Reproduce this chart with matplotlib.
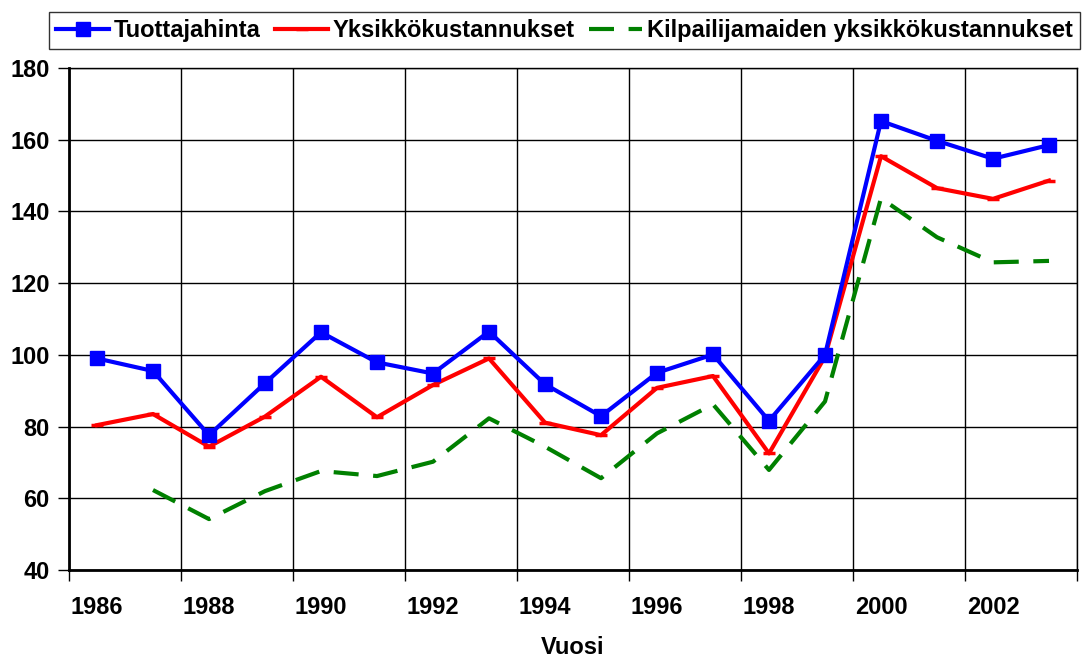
import matplotlib
matplotlib.use("Agg")
import matplotlib.pyplot as plt
import numpy as np

years = list(range(1986, 2004))
tuottajahinta = [99.0, 95.5, 77.6, 92.1, 106.3, 97.9, 94.8, 106.5, 91.8, 82.9,
                 95.0, 100.1, 81.6, 100.0, 165.2, 159.7, 154.7, 158.5]
yksikkokust = [80.4, 83.5, 74.4, 82.8, 93.9, 82.6, 91.6, 99.0, 81.1, 77.6,
               90.8, 94.1, 72.5, 99.5, 155.4, 146.5, 143.5, 148.6]
kilpailijat = [np.nan, 62.3, 54.2, 62.0, 67.6, 66.2, 70.2, 82.3, 74.4, 65.6,
               78.1, 86.2, 67.9, 87.0, 143.7, 132.8, 125.8, 126.2]
labels = ["Tuottajahinta", "Yksikkökustannukset", "Kilpailijamaiden yksikkökustannukset"]
xlabel = "Vuosi"
yticks = [40, 60, 80, 100, 120, 140, 160, 180]

plt.rcParams['font.family'] = ['Liberation Sans', 'DejaVu Sans']
plt.rcParams['font.weight'] = 'bold'

FS = 17
fig = plt.figure(figsize=(10.85, 6.57), dpi=100)
ax = fig.add_axes([69/1085, 1-570/657, (1077-69)/1085, (570-68)/657])

x = np.arange(len(years))
l1, = ax.plot(x, tuottajahinta, color='#0000FF', lw=3, marker='s', ms=9.5,
              label=labels[0], zorder=5)
l2, = ax.plot(x, yksikkokust, color='#FF0000', lw=3, marker='_', ms=9, mew=2.5,
              label=labels[1], zorder=4)
l3, = ax.plot(x, kilpailijat, color='#008000', lw=3, linestyle=(0, (6, 3.5)),
              label=labels[2], zorder=3)

ax.set_xlim(-0.5, len(years) - 0.5)
ax.set_ylim(40, 180)
ax.set_yticks(yticks)
ax.set_yticklabels([str(v) for v in yticks], fontsize=FS, fontweight='bold')

major = np.arange(0, len(years), 2)
ax.set_xticks(major)
ax.set_xticklabels([str(years[i]) for i in major], fontsize=FS, fontweight='bold')
ax.tick_params(axis='x', which='major', length=0, pad=19)
minor = np.arange(-0.5, len(years), 2)
ax.set_xticks(minor, minor=True)
ax.tick_params(axis='x', which='minor', length=8, width=1, direction='out', color='black')
ax.tick_params(axis='y', length=8, width=1, direction='out', pad=6)

ax.grid(True, axis='y', which='major', color='black', lw=1)
ax.grid(True, axis='x', which='minor', color='black', lw=1)
ax.grid(False, axis='x', which='major')
ax.set_axisbelow(True)

for s in ['left', 'bottom']:
    ax.spines[s].set_linewidth(2)
for s in ['top', 'right']:
    ax.spines[s].set_linewidth(1)

ax.set_xlabel(xlabel, fontsize=FS, fontweight='bold', labelpad=12)

leg = fig.legend(handles=[l1, l2, l3], loc='upper right',
                 bbox_to_anchor=(1080/1085, 1 - 12/657), ncol=3,
                 frameon=True, fancybox=False, edgecolor='black',
                 fontsize=FS, handlelength=2.25, handletextpad=0.2,
                 columnspacing=0.6, borderpad=0.3, borderaxespad=0)
leg.get_frame().set_linewidth(1)
for t in leg.get_texts():
    t.set_fontweight('bold')

fig.savefig("out.png", dpi=100)
